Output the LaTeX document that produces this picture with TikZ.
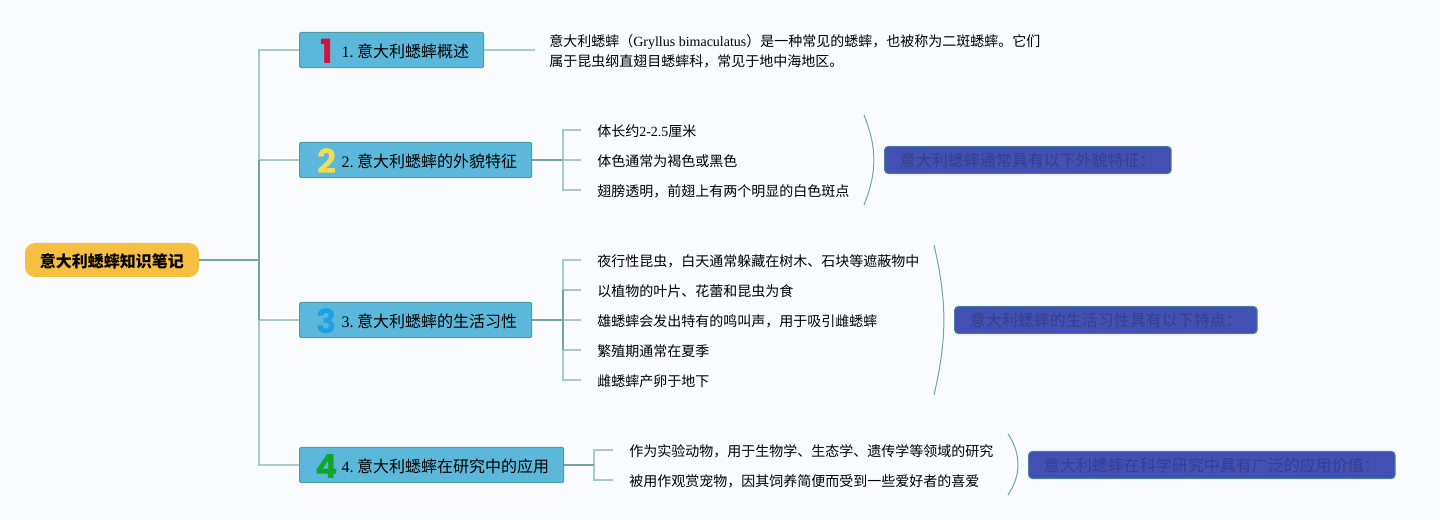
\documentclass[tikz,border=0pt]{standalone}
\usepackage{fontspec}
\setmainfont{Noto Sans CJK SC}
\newfontfamily\lat{Liberation Serif}
\newfontfamily\numfont{Poppins}[BoldFont={Poppins Bold}]
\definecolor{pagebg}{HTML}{F9FBFF}
\definecolor{rootfill}{HTML}{F5BF41}
\definecolor{boxfill}{HTML}{5CB8DB}
\definecolor{boxline}{HTML}{4F9C9E}
\definecolor{sumfill}{HTML}{4150B2}
\definecolor{sumtext}{HTML}{353F8F}
\definecolor{sumline}{HTML}{4A7FA0}
\definecolor{darkline}{HTML}{6FA69E}
\definecolor{lightline}{HTML}{A6CCC4}
\definecolor{numred}{HTML}{D2133A}
\definecolor{numyellow}{HTML}{F2DC55}
\definecolor{numblue}{HTML}{1E9FE6}
\definecolor{numgreen}{HTML}{12A52A}
\newcommand{\numicon}[2]{\smash{\makebox[20.5pt][c]{\hspace*{-2pt}\raisebox{-4.5pt}{\fontsize{25}{25}\numfont\bfseries\textcolor{#1}{#2}}}}}
\tikzset{
  rootnode/.style={draw=none,fill=rootfill,rounded corners=7.5pt,minimum width=130.5pt,minimum height=25.5pt,inner sep=0pt,text height=14pt,text depth=2pt,font=\fontsize{12}{14}\bfseries},
  topicbox/.style={draw=boxline,line width=0.8pt,fill=boxfill,rounded corners=1.5pt,anchor=west,minimum height=26.4pt,inner xsep=11pt,inner ysep=0pt,text depth=2pt,text height=13pt,font=\fontsize{12}{14}\selectfont},
  leaf/.style={anchor=west,inner xsep=12pt,inner ysep=1pt,text height=11.5pt,text depth=2pt,font=\fontsize{10.5}{15}\selectfont,align=left},
  sumbox/.style={draw=sumline,line width=0.8pt,fill=sumfill,text=sumtext,rounded corners=3pt,anchor=west,minimum height=20.4pt,inner xsep=11.5pt,inner ysep=0pt,font=\fontsize{12}{14}\selectfont},
  darkconn/.style={draw=darkline,line width=1.2pt},
  lightconn/.style={draw=lightline,line width=1.2pt},
  brace/.style={draw=darkline,line width=0.75pt}
}
\begin{document}
\begin{tikzpicture}[x=0.75pt,y=-0.75pt]
\useasboundingbox (0,0) rectangle (1440,520);
\fill[pagebg] (0,0) rectangle (1440,520);

\coordinate (trunkb) at (259,160);
\coordinate (trunkc) at (259,320);
\coordinate (forkb) at (563,160);
\coordinate (forkc) at (563,320);
\coordinate (forkd) at (594,465);
\coordinate (forkca) at (563,290);
\coordinate (forkcb) at (563,350);

\node[rootnode] (root) at (112,260) {意大利蟋蟀知识笔记};

\node[topicbox] (topica) at (299,50) {\numicon{numred}{1}{\lat 1.}\hspace{2.6pt}意大利蟋蟀概述};
\node[topicbox] (topicb) at (299,160) {\numicon{numyellow}{2}{\lat 2.}\hspace{2.6pt}意大利蟋蟀的外貌特征};
\node[topicbox] (topicc) at (299,320) {\numicon{numblue}{3}{\lat 3.}\hspace{2.6pt}意大利蟋蟀的生活习性};
\node[topicbox] (topicd) at (299,465) {\numicon{numgreen}{4}{\lat 4.}\hspace{2.6pt}意大利蟋蟀在研究中的应用};

\node[leaf,inner xsep=10.5pt] (desc) at (535,60) {意大利蟋蟀（{\lat Gryllus bimaculatus}）是一种常见的蟋蟀，也被称为二斑蟋蟀。它们\\属于昆虫纲直翅目蟋蟀科，常见于地中海地区。};

\node[leaf] (ba) at (581,130) {体长约{\lat 2-2.5}厘米};
\node[leaf] (bb) at (581,160) {体色通常为褐色或黑色};
\node[leaf] (bc) at (581,190) {翅膀透明，前翅上有两个明显的白色斑点};

\node[leaf] (ca) at (581,260) {夜行性昆虫，白天通常躲藏在树木、石块等遮蔽物中};
\node[leaf] (cb) at (581,290) {以植物的叶片、花蕾和昆虫为食};
\node[leaf] (cc) at (581,320) {雄蟋蟀会发出特有的鸣叫声，用于吸引雌蟋蟀};
\node[leaf] (cd) at (581,350) {繁殖期通常在夏季};
\node[leaf] (ce) at (581,380) {雌蟋蟀产卵于地下};

\node[leaf] (da) at (613,450) {作为实验动物，用于生物学、生态学、遗传学等领域的研究};
\node[leaf] (db) at (613,480) {被用作观赏宠物，因其饲养简便而受到一些爱好者的喜爱};

\node[sumbox] (sumb) at (884,160) {意大利蟋蟀通常具有以下外貌特征：};
\node[sumbox] (sumc) at (954,320) {意大利蟋蟀的生活习性具有以下特点：};
\node[sumbox] (sumd) at (1028,465) {意大利蟋蟀在科学研究中具有广泛的应用价值：};

\coordinate (braceba) at (864,115);
\coordinate (bracebb) at (864,205);
\coordinate (braceca) at (934,245);
\coordinate (bracecb) at (934,395);
\coordinate (braceda) at (1008,434);
\coordinate (bracedb) at (1008,495);

\draw[lightconn] (trunkb) |- (topica.west);
\draw[lightconn] (trunkb) -- (topicb.west);
\draw[lightconn] (trunkc) -- (topicc.west);
\draw[lightconn] (trunkc) |- (topicd.west);
\draw[darkconn] (trunkb) -- (trunkc);
\draw[darkconn] (root.east) -- (root.east -| trunkb);

\draw[lightconn] (topica.east) -- (topica.east -| desc.west);

\draw[lightconn] (forkb) |- (ba.west);
\draw[lightconn] (forkb) -- (bb.west);
\draw[lightconn] (forkb) |- (bc.west);
\draw[darkconn] (topicb.east) -- (forkb);

\draw[lightconn] (forkca) |- (ca.west);
\draw[lightconn] (forkca) -- (cb.west);
\draw[lightconn] (forkc) -- (cc.west);
\draw[lightconn] (forkcb) -- (cd.west);
\draw[lightconn] (forkcb) |- (ce.west);
\draw[darkconn] (forkca) -- (forkcb);
\draw[darkconn] (topicc.east) -- (forkc);

\draw[lightconn] (forkd) |- (da.west);
\draw[lightconn] (forkd) |- (db.west);
\draw[darkconn] (topicd.east) -- (forkd);

\draw[brace] (braceba) to[bend left=22] (bracebb);
\draw[brace] (braceca) to[bend left=13] (bracecb);
\draw[brace] (braceda) to[bend left=34] (bracedb);

\end{tikzpicture}
\end{document}
